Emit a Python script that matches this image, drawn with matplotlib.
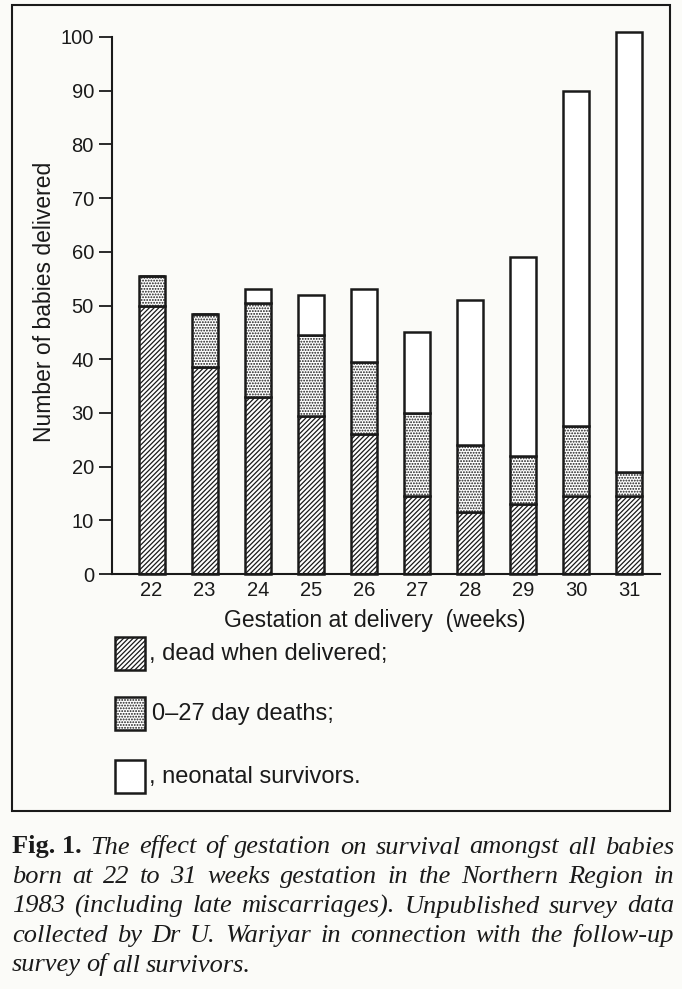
import matplotlib.pyplot as plt
import numpy as np
from matplotlib.patches import Rectangle

# Data
weeks = [22, 23, 24, 25, 26, 27, 28, 29, 30, 31]
dead_delivered = [50, 38.5, 33, 29.5, 26, 14.5, 11.5, 13, 14.5, 14.5]
early_deaths = [5.5, 10, 17.5, 15, 13.5, 15.5, 12.5, 9, 13, 4.5]
survivors = [0, 0, 2.5, 7.5, 13.5, 15, 27, 37, 62.5, 82]
yticks = list(range(0, 101, 10))

legend_labels = [', dead when delivered;', '0\u201327 day deaths;', ', neonatal survivors.']
caption_lines = [
    'The effect of gestation on survival amongst all babies',
    'born at 22 to 31 weeks gestation in the Northern Region in',
    '1983 (including late miscarriages). Unpublished survey data',
    'collected by Dr U. Wariyar in connection with the follow-up',
    'survey of all survivors.',
]

plt.rcParams['font.family'] = ['Liberation Sans', 'DejaVu Sans']
plt.rcParams['hatch.linewidth'] = 0.9
bg = '#fbfbf8'
ink = '#1a1a1a'
W = 682.0
H = 989.0

fig = plt.figure(figsize=(6.82, 9.89), dpi=100, facecolor=bg)
ax = fig.add_axes([112 / W, 1 - 574 / H, 548 / W, 537 / H])
ax.set_facecolor('none')

x = np.array(weeks)
w = 0.49
b1 = np.array(dead_delivered)
b2 = b1 + np.array(early_deaths)
kw = dict(color='white', edgecolor=ink, linewidth=1.8, clip_on=False)
ax.bar(x, dead_delivered, w, hatch='///////', **kw)
ax.bar(x, early_deaths, w, bottom=b1, hatch='......', **kw)
ax.bar(x, survivors, w, bottom=b2, **kw)

ax.set_xlim(21.255, 31.575)
ax.set_ylim(0, 100)
ax.set_xticks(weeks)
ax.set_yticks(yticks)
ax.tick_params(axis='x', length=0, labelsize=14.5, pad=5, colors=ink)
ax.tick_params(axis='y', length=9.5, width=1.3, labelsize=14.5, pad=3.5, colors=ink)
for s in ['top', 'right']:
    ax.spines[s].set_visible(False)
for s in ['left', 'bottom']:
    ax.spines[s].set_linewidth(1.5)
    ax.spines[s].set_color(ink)

fig.text(45 / W, 1 - 302 / H, 'Number of babies delivered', rotation=90, ha='center',
         va='center', fontsize=16.5, color=ink)
fig.text(375 / W, 1 - 620 / H, 'Gestation at delivery  (weeks)', ha='center', va='center',
         fontsize=16.5, color=ink)

# legend drawn by hand under the axis
hatches = ['///////', '......', '']
box_tops = [637, 697, 760]
text_x = [149, 152, 149]
for top, h, lab, tx in zip(box_tops, hatches, legend_labels, text_x):
    r = Rectangle((115 / W, 1 - (top + 33) / H), 30 / W, 33 / H, transform=fig.transFigure,
                  facecolor='white', edgecolor=ink, hatch=h, linewidth=1.8)
    fig.add_artist(r)
    fig.text(tx / W, 1 - (top + 17) / H, lab, ha='left', va='center', fontsize=17, color=ink)

# frame round the figure
fig.add_artist(Rectangle((12 / W, 1 - 811 / H), 658 / W, 806 / H, transform=fig.transFigure,
                         facecolor='none', edgecolor=ink, linewidth=1.5))

# caption, justified word by word
serif = ['Liberation Serif', 'DejaVu Serif']
renderer = fig.canvas.get_renderer()
left, right = 12.0, 674.0
for i, line in enumerate(caption_lines):
    yb = 1 - (853.5 + 29.5 * i) / H
    words = line.split()
    items = [(wd, 'italic', 'normal') for wd in words]
    if i == 0:
        items = [('Fig. 1.', 'normal', 'bold')] + items
    texts = [fig.text(0, yb, wd, fontsize=19, style=st, fontweight=fw, family=serif,
                      color=ink, ha='left', va='baseline') for wd, st, fw in items]
    widths = [t.get_window_extent(renderer).width for t in texts]
    if i < len(caption_lines) - 1:
        gap = max((right - left - sum(widths)) / (len(texts) - 1), 3.0)
    else:
        gap = 5.5
    xp = left
    for t, wd in zip(texts, widths):
        t.set_x(xp / W)
        xp += wd + gap

fig.savefig('out.png', dpi=100, facecolor=bg)
